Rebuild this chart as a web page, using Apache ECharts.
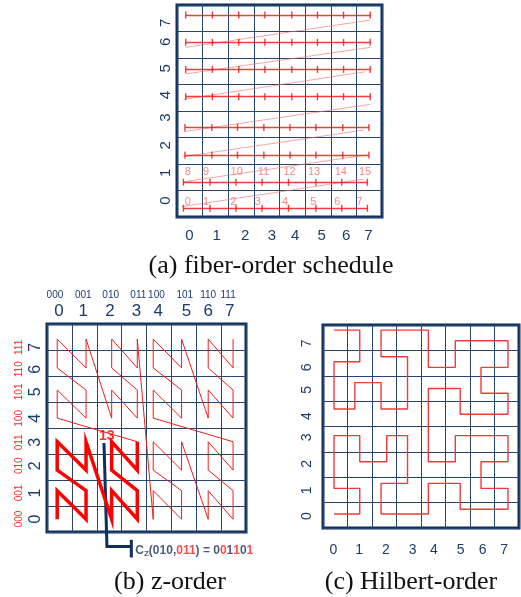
<!DOCTYPE html>
<html><head><meta charset="utf-8">
<script src="https://cdn.jsdelivr.net/npm/echarts@6/dist/echarts.min.js"></script>
<style>html,body{margin:0;padding:0;background:#fff}#c{width:521px;height:597px}</style>
</head><body><div id="c"></div>
<script>
// ---------- shared ----------
const bits = ['000','001','010','011','100','101','110','111'];

// ---------- (a) fiber-order schedule ----------
const aXLabelAt = [-0.02, 1.05, 2.16, 3.2, 4.11, 5.15, 6.1, 6.97];
const aYLabelAt = [0.12, 1.17, 2.2, 3.25, 4.1, 5.11, 6.11, 6.83];
const fiberRowY = [-0.17, 0.81, 1.84, 2.88, 4.04, 5.07, 6.09, 7.12];
const fiberTickX = [
  [-0.25, 0.79, 1.80, 2.82, 3.85, 4.92, 5.93, 6.93],
  [-0.25, 0.79, 1.80, 2.82, 3.85, 4.92, 5.93, 6.93],
  [-0.19, 0.86, 1.86, 2.89, 3.91, 4.92, 5.97, 6.99],
  [-0.19, 0.86, 1.86, 2.89, 3.91, 4.92, 5.97, 6.99],
  [-0.16, 0.88, 1.91, 2.93, 3.98, 4.98, 6.00, 7.04],
  [-0.16, 0.88, 1.91, 2.93, 3.98, 4.98, 6.00, 7.04],
  [-0.16, 0.88, 1.91, 2.93, 3.98, 4.98, 6.00, 7.04],
  [-0.16, 0.88, 1.91, 2.93, 3.98, 4.98, 6.00, 7.04]
];
const diagX0 = [-0.32, -0.25, -0.25, -0.25, -0.25, -0.16, -0.16];
const diagY0 = [-0.11, 0.83, 1.78, 2.72, 3.94, 4.90, 5.90];
const diagX1 = [6.78, 6.91, 6.78, 7.04, 6.85, 7.04, 7.04];
const diagY1 = [0.93, 1.84, 2.78, 3.75, 4.98, 5.90, 6.93];
const fiberLabels = [['0','1','2','3','4','5','6','7'], ['8','9','10','11','12','13','14','15']];
const fiberLabelX = [[-0.08, 0.63, 1.70, 2.65, 3.72, 4.82, 5.76, 6.62],
                     [-0.08, 0.63, 1.83, 2.87, 3.89, 4.85, 5.89, 6.84]];
const fiberLabelY = [0.08, 1.21];

// ---------- (b) z-order ----------
const bXLabelAt = [-0.02, 0.96, 2.03, 3.1, 3.97, 5.11, 5.98, 6.85];
const bXBitsAt  = [-0.18, 0.96, 2.06, 3.17, 3.9, 5.04, 5.98, 6.78];
const bYLabelAt = [0, 1.0, 2.05, 2.95, 3.87, 4.89, 5.76, 6.6];
const zColPos = [-0.09, 1.07, 2.1, 3.13, 3.77, 4.91, 5.98, 6.98];
const zRowPos = [-0.01, 1.09, 1.88, 2.97, 3.88, 4.96, 5.81, 6.92];
const zCols = [0,0,1,1,0,0,1,1,2,2,3,3,2,2,3,3, 0,0,1,1,0,0,1,1,2,2,3,3,2,2,3,3,
               4,4,5,5,4,4,5,5,6,6,7,7,6,6,7,7, 4,4,5,5,4,4,5,5,6,6,7,7,6,6,7,7];
const zRows = [0,1,0,1,2,3,2,3,0,1,0,1,2,3,2,3, 4,5,4,5,6,7,6,7,4,5,4,5,6,7,6,7,
               0,1,0,1,2,3,2,3,0,1,0,1,2,3,2,3, 4,5,4,5,6,7,6,7,4,5,4,5,6,7,6,7];
const zThickCount = 16;
const zMarkedIndex = 13;
const calloutPath = [[1.79, 2.92], [1.91, -1.06], [2.87, -1.06]];
const calloutBar = [[2.89, -0.80], [2.89, -1.48]];
const calloutTextAt = [3.05, -1.22];

// ---------- (c) Hilbert-order ----------
const cXLabelAt = [-0.08, 0.98, 2.07, 3.16, 4.03, 5.12, 6.02, 6.89];
const cYLabelAt = [-0.03, 0.98, 2.03, 3.07, 3.91, 4.94, 5.83, 6.78];
const hilbertX = [-0.05,1.0,1.0,-0.05,-0.05,1.0,1.0,2.1,2.1,2.95,2.95,1.87,1.87,3.8,3.8,5.1,5.1,7.05,7.05,5.95,
  5.95,7.05,7.05,4.9,4.9,3.8,3.8,5.1,5.1,7.05,7.05,5.95,5.95,7.05,7.05,4.9,4.9,3.8,3.8,1.87,
  1.87,2.95,2.95,1.87,1.87,0.8,0.8,-0.05,-0.05,1.0,1.0,-0.05];
const hilbertY = [0.05,0.05,1.06,1.06,3.14,3.14,2.11,2.11,3.14,3.14,1.26,1.26,0.05,0.05,1.26,1.26,0.24,0.24,1.06,1.06,
  2.11,2.11,3.14,3.14,2.11,2.11,5.0,5.0,3.98,3.98,4.81,4.81,5.83,5.83,6.88,6.88,5.83,5.83,7.3,7.3,
  6.25,6.25,4.19,4.19,5.23,5.23,4.19,4.19,6.05,6.05,7.3,7.3];

// ---------- styles ----------
const NAVY = '#1c3b6b', BORDER = '#0f2f5c', GRIDC = '#26466f';
const RED = '#f01c1c', PINK = '#f26b6b';
const SANS = 'Liberation Sans, Arial, sans-serif';
const SERIF = 'Liberation Serif, Times New Roman, serif';

function gridAxis(gi, extra) {
  return Object.assign({
    gridIndex: gi, type: 'value', min: -0.5, max: 7.5, interval: 1,
    axisLine: {show: false}, axisTick: {show: false},
    splitLine: {show: true, lineStyle: {color: GRIDC, width: 1}}
  }, extra);
}
function labelAxis(gi, extra) {
  return Object.assign({
    gridIndex: gi, type: 'value', min: -0.5, max: 7.5, interval: 1,
    axisLine: {show: false}, axisTick: {show: false}, splitLine: {show: false}
  }, extra);
}
const numFmt = v => String(Math.abs(Math.round(v)));
const bitFmt = v => bits[Math.abs(Math.round(v))];

// ---------- build series data ----------
const rowSegs = fiberRowY.map((y, r) => ({coords: [[fiberTickX[r][0], y], [fiberTickX[r][7], y]]}));
const tickPts = [];
fiberRowY.forEach((y, r) => fiberTickX[r].forEach(x => tickPts.push([x, y])));
const diagSegs = diagX0.map((x, i) => ({coords: [[x, diagY0[i]], [diagX1[i], diagY1[i]]]}));
const fiberLabelPts = [];
fiberLabels.forEach((row, r) => row.forEach((t, i) => fiberLabelPts.push({name: t, value: [fiberLabelX[r][i], fiberLabelY[r]]})));

const zPts = zCols.map((c, i) => [zColPos[c], zRowPos[zRows[i]]]);
const zThick = zPts.slice(0, zThickCount);
const zThin = zPts.slice(zThickCount - 1);

const hPts = hilbertX.map((x, i) => [x, hilbertY[i]]);

const option = {
  animation: false,
  title: [
    {text: '(a) fiber-order schedule', left: 266, top: 248, textAlign: 'center',
     textStyle: {fontFamily: SERIF, fontSize: 26, fontWeight: 'normal', color: '#111'}},
    {text: '(b) z-order', left: 165, top: 564, textAlign: 'center',
     textStyle: {fontFamily: SERIF, fontSize: 26, fontWeight: 'normal', color: '#111'}},
    {text: '(c) Hilbert-order', left: 406, top: 564, textAlign: 'center',
     textStyle: {fontFamily: SERIF, fontSize: 26, fontWeight: 'normal', color: '#111'}}
  ],
  grid: [
    {left: 177, top: 5, width: 205, height: 212, show: true, borderColor: BORDER, borderWidth: 3, backgroundColor: 'transparent'},
    {left: 47, top: 324, width: 199, height: 208, show: true, borderColor: BORDER, borderWidth: 3, backgroundColor: 'transparent'},
    {left: 323, top: 325, width: 196, height: 203, show: true, borderColor: BORDER, borderWidth: 3, backgroundColor: 'transparent'}
  ],
  xAxis: [
    gridAxis(0, {position: 'bottom', axisLabel: {customValues: aXLabelAt, formatter: numFmt, fontSize: 15, color: NAVY, fontFamily: SANS, margin: 11}}),
    gridAxis(1, {position: 'top', axisLabel: {customValues: bXLabelAt, formatter: numFmt, fontSize: 17, color: NAVY, fontFamily: SANS, margin: 4}}),
    labelAxis(1, {position: 'top', axisLabel: {customValues: bXBitsAt, formatter: bitFmt, fontSize: 10, color: NAVY, fontFamily: SANS, margin: 24}}),
    gridAxis(2, {position: 'bottom', axisLabel: {customValues: cXLabelAt, formatter: numFmt, fontSize: 14, color: NAVY, fontFamily: SANS, margin: 15}})
  ],
  yAxis: [
    gridAxis(0, {position: 'left', axisLabel: {customValues: aYLabelAt, formatter: numFmt, rotate: 90, fontSize: 15, color: NAVY, fontFamily: SANS, margin: 4}}),
    gridAxis(1, {position: 'left', axisLabel: {customValues: bYLabelAt, formatter: numFmt, rotate: 90, fontSize: 16, color: NAVY, fontFamily: SANS, margin: 3}}),
    labelAxis(1, {position: 'left', axisLabel: {customValues: bYLabelAt, formatter: bitFmt, rotate: 90, fontSize: 10, color: '#ff2a2a', fontFamily: SANS, margin: 23}}),
    gridAxis(2, {position: 'left', axisLabel: {customValues: cYLabelAt, formatter: numFmt, rotate: 90, fontSize: 14, color: NAVY, fontFamily: SANS, margin: 9}})
  ],
  series: [
    // (a)
    {type: 'lines', coordinateSystem: 'cartesian2d', xAxisIndex: 0, yAxisIndex: 0, data: diagSegs,
     lineStyle: {color: PINK, width: 1, opacity: 0.6}, silent: true},
    {type: 'lines', coordinateSystem: 'cartesian2d', xAxisIndex: 0, yAxisIndex: 0, data: rowSegs,
     lineStyle: {color: RED, width: 1.4, opacity: 0.85}, silent: true},
    {type: 'scatter', xAxisIndex: 0, yAxisIndex: 0, data: tickPts, symbol: 'rect', symbolSize: [1.4, 7],
     itemStyle: {color: RED, opacity: 0.85}, silent: true},
    {type: 'scatter', xAxisIndex: 0, yAxisIndex: 0, data: fiberLabelPts, symbolSize: 0, silent: true,
     label: {show: true, position: 'inside', formatter: p => p.name, fontSize: 11, color: PINK, fontFamily: SANS}},
    // (b)
    {type: 'line', xAxisIndex: 1, yAxisIndex: 1, data: zThin, symbol: 'none',
     lineStyle: {color: RED, width: 1}, silent: true},
    {type: 'line', xAxisIndex: 1, yAxisIndex: 1, data: zThick, symbol: 'none',
     lineStyle: {color: '#f00', width: 3.5, join: 'miter'}, silent: true},
    {type: 'lines', coordinateSystem: 'cartesian2d', xAxisIndex: 1, yAxisIndex: 1, polyline: true, clip: false,
     data: [{coords: calloutPath}, {coords: calloutBar}], lineStyle: {color: BORDER, width: 3, opacity: 1}, silent: true, z: 3},
    {type: 'scatter', xAxisIndex: 1, yAxisIndex: 1, data: [{name: String(zMarkedIndex), value: zPts[zMarkedIndex]}],
     symbolSize: 0, silent: true, z: 5,
     label: {show: true, position: 'inside', offset: [-5, -6], formatter: p => p.name, fontSize: 14, fontWeight: 'bold', color: '#f00', fontFamily: SANS}},
    {type: 'scatter', xAxisIndex: 1, yAxisIndex: 1, clip: false, data: [calloutTextAt], symbolSize: 0, silent: true,
     label: {show: true, position: 'right', distance: 0,
       formatter: '{n|C}{s|Z}{n|(010,}{r|011}{n|) = 0}{r|0}{n|1}{r|1}{n|0}{r|1}',
       rich: {
         n: {fontSize: 12, fontWeight: 'bold', color: '#1a2f5a', fontFamily: SANS},
         r: {fontSize: 12, fontWeight: 'bold', color: '#ff1a1a', fontFamily: SANS},
         s: {fontSize: 8, fontWeight: 'bold', color: '#1a2f5a', fontFamily: SANS, padding: [6, 0, 0, 0]}
       }}},
    // (c)
    {type: 'line', xAxisIndex: 3, yAxisIndex: 3, data: hPts, symbol: 'none',
     lineStyle: {color: '#f03a3a', width: 1.4}, silent: true}
  ]
};
echarts.init(document.getElementById('c'), null, {renderer: 'canvas'}).setOption(option);
</script></body></html>
